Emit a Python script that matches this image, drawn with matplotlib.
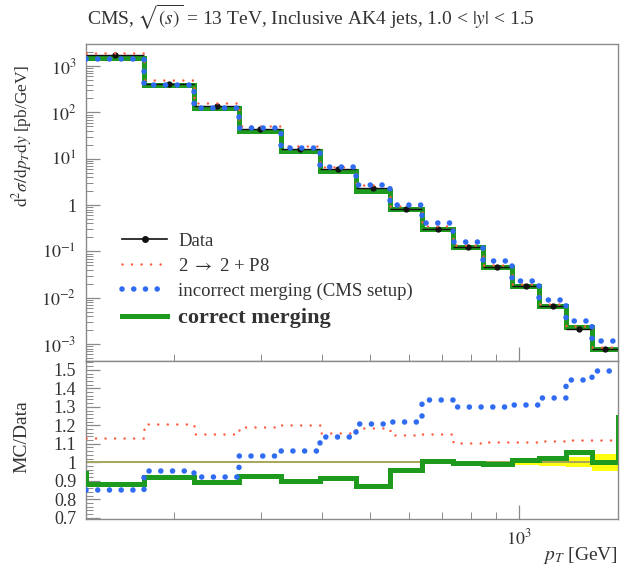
import numpy as np
import matplotlib
matplotlib.use("Agg")
import matplotlib.pyplot as plt
from matplotlib.lines import Line2D
from matplotlib.ticker import FixedLocator, FixedFormatter, MultipleLocator, NullFormatter

plt.rcParams['font.family'] = 'serif'
plt.rcParams['font.serif'] = ['Liberation Serif', 'DejaVu Serif']
plt.rcParams['mathtext.fontset'] = 'stix'

# --- data ---
pt_edges = [133, 174, 220, 272, 330, 395, 468, 548, 638, 737, 846, 967, 1101, 1248, 1410, 1588]
data_xsec = [1710, 418, 139, 43.8, 16.0, 5.86, 2.3, 0.84, 0.304, 0.124, 0.0467, 0.0176, 0.0065, 0.00216, 0.00077]
data_rel_err = [0.003, 0.003, 0.003, 0.003, 0.003, 0.004, 0.004, 0.004, 0.005, 0.005, 0.006, 0.015, 0.02, 0.028, 0.045]

ratio_p8 = [1.131, 1.208, 1.155, 1.19, 1.199, 1.16, 1.187, 1.146, 1.151, 1.105, 1.11, 1.11, 1.116, 1.123, 1.123]
ratio_incorrect = [0.852, 0.954, 0.918, 1.036, 1.06, 1.137, 1.208, 1.217, 1.336, 1.297, 1.30, 1.311, 1.35, 1.443, 1.496]
ratio_correct = [0.883, 0.92, 0.893, 0.924, 0.897, 0.915, 0.87, 0.959, 1.007, 0.998, 0.991, 1.012, 1.025, 1.057, 1.004]
# neighbouring bins just outside the plotted range (only their edges show)
correct_outside_edges = [114, 1784]
correct_outside_ratio = [0.94, 1.244]

COLORS = {
    'data': '#111111',
    'p8': '#ff5a3c',
    'incorrect': '#2f6cf2',
    'correct': '#1e9a1e',
    'band': '#ffff10',
    'unity': '#a8a65a',
    'frame': '#8a8a8a',
    'text': '#333333',
}

BLUE_DOTS = dict(lw=4.0, dashes=(0.01, 2.1), dash_capstyle='round')
RED_DOTS = dict(lw=1.8, dashes=(0.01, 3.8), dash_capstyle='round')

edges = np.array(pt_edges, dtype=float)
data = np.array(data_xsec)
centers = np.sqrt(edges[:-1] * edges[1:])
r_p8 = np.array(ratio_p8)
r_inc = np.array(ratio_incorrect)
r_cor = np.array(ratio_correct)


def stepy(vals):
    return np.append(vals, vals[-1])


W, H = 620, 571
fig = plt.figure(figsize=(W / 100, H / 100), dpi=100)
x0, x1 = 86, 618
ax = fig.add_axes([x0 / W, 1 - 361 / H, (x1 - x0) / W, (361 - 44) / H])
axr = fig.add_axes([x0 / W, 1 - 519 / H, (x1 - x0) / W, (519 - 361) / H], sharex=ax)

# --- main panel ---
ax.step(edges, stepy(data * r_cor), where='post', color=COLORS['correct'], lw=3.6, zorder=2,
        solid_joinstyle='miter')
ax.errorbar(centers, data, yerr=data * np.array(data_rel_err),
            xerr=[centers - edges[:-1], edges[1:] - centers],
            fmt='o', color=COLORS['data'], ms=3.5, lw=1.0, zorder=3)
ax.step(edges, stepy(data * r_p8), where='post', color=COLORS['p8'], zorder=4, **RED_DOTS)
ax.step(edges, stepy(data * r_inc), where='post', color=COLORS['incorrect'], zorder=4, **BLUE_DOTS)

ax.set_xscale('log')
ax.set_yscale('log')
ax.set_xlim(133, 1588)
ax.set_ylim(4.3e-4, 3.0e3)

ax.yaxis.set_major_locator(FixedLocator([1e-3, 1e-2, 1e-1, 1, 1e1, 1e2, 1e3]))
ax.yaxis.set_major_formatter(FixedFormatter(
    [r'$10^{-3}$', r'$10^{-2}$', r'$10^{-1}$', '1', r'$10^{1}$', r'$10^{2}$', r'$10^{3}$']))
ax.yaxis.set_minor_locator(matplotlib.ticker.LogLocator(base=10, subs=np.arange(2, 10), numticks=20))
ax.yaxis.set_minor_formatter(NullFormatter())
ax.tick_params(axis='x', labelbottom=False)

legend_handles = [
    Line2D([], [], color=COLORS['data'], lw=1.2, marker='o', ms=4),
    Line2D([], [], color=COLORS['p8'], **RED_DOTS),
    Line2D([], [], color=COLORS['incorrect'], **BLUE_DOTS),
    Line2D([], [], color=COLORS['correct'], lw=3.6),
]
legend_labels = ['Data', r'2 $\rightarrow$ 2 + P8', 'incorrect merging (CMS setup)', 'correct merging']
leg = ax.legend(legend_handles, legend_labels, loc='upper left', bbox_to_anchor=(0.068, 0.405),
                frameon=False, fontsize=13.5, handlelength=2.4, handletextpad=0.6,
                borderpad=0, borderaxespad=0, labelspacing=0.42)
for t in leg.get_texts():
    t.set_color(COLORS['text'])
leg.get_texts()[3].set_fontweight('bold')
leg.get_texts()[3].set_fontsize(16)

# --- ratio panel ---
band_lo = 1 - np.array(data_rel_err)
band_hi = 1 + np.array(data_rel_err)
axr.fill_between(edges, stepy(band_lo), stepy(band_hi), step='post', color=COLORS['band'], lw=0, zorder=1)
axr.axhline(1.0, color=COLORS['unity'], lw=1.4, zorder=2)

cor_edges = np.concatenate([[correct_outside_edges[0]], edges, [correct_outside_edges[1]]])
cor_vals = np.concatenate([[correct_outside_ratio[0]], r_cor, [correct_outside_ratio[1]]])
axr.step(cor_edges, stepy(cor_vals), where='post', color=COLORS['correct'], lw=3.6, zorder=3,
         solid_joinstyle='miter')
axr.step(edges, stepy(r_p8), where='post', color=COLORS['p8'], zorder=4, **RED_DOTS)
axr.step(edges, stepy(r_inc), where='post', color=COLORS['incorrect'], zorder=4, **BLUE_DOTS)

axr.set_ylim(0.693, 1.548)
ratio_ticks = [0.7, 0.8, 0.9, 1.0, 1.1, 1.2, 1.3, 1.4, 1.5]
axr.yaxis.set_major_locator(FixedLocator(ratio_ticks))
axr.yaxis.set_major_formatter(FixedFormatter(['0.7', '0.8', '0.9', '1', '1.1', '1.2', '1.3', '1.4', '1.5']))
axr.yaxis.set_minor_locator(MultipleLocator(0.02))

axr.xaxis.set_major_locator(FixedLocator([1000]))
axr.xaxis.set_major_formatter(FixedFormatter([r'$10^{3}$']))
axr.xaxis.set_minor_locator(FixedLocator([200, 300, 400, 500, 600, 700, 800, 900]))
axr.xaxis.set_minor_formatter(NullFormatter())

for a in (ax, axr):
    a.tick_params(which='both', direction='in', top=False, right=False, color=COLORS['frame'],
                  labelsize=13, labelcolor=COLORS['text'])
    a.tick_params(which='major', length=10, width=0.9, pad=7)
    a.tick_params(which='minor', length=5, width=0.7)
    for s in a.spines.values():
        s.set_color(COLORS['frame'])
        s.set_linewidth(1.0)

# axis titles placed in figure pixels
fig.text(22 / W, 1 - 136 / H, r'$\mathrm{d}^2\sigma/\mathrm{d}p_T\mathrm{d}y$ [pb/GeV]', rotation=90,
         ha='center', va='center', fontsize=12.5, color=COLORS['text'])
fig.text(22 / W, 1 - 437 / H, 'MC/Data', rotation=90, ha='center', va='center',
         fontsize=14, color=COLORS['text'])
fig.text(x1 / W, 1 - 556 / H, r'$p_T$ [GeV]', ha='right', va='center', fontsize=14, color=COLORS['text'])
fig.text(311 / W, 1 - 17 / H, r'CMS, $\sqrt{(s)}$ = 13 TeV, Inclusive AK4 jets, 1.0 < $|y|$ < 1.5',
         ha='center', va='center', fontsize=14, color=COLORS['text'])

fig.savefig('out.png', dpi=100)
